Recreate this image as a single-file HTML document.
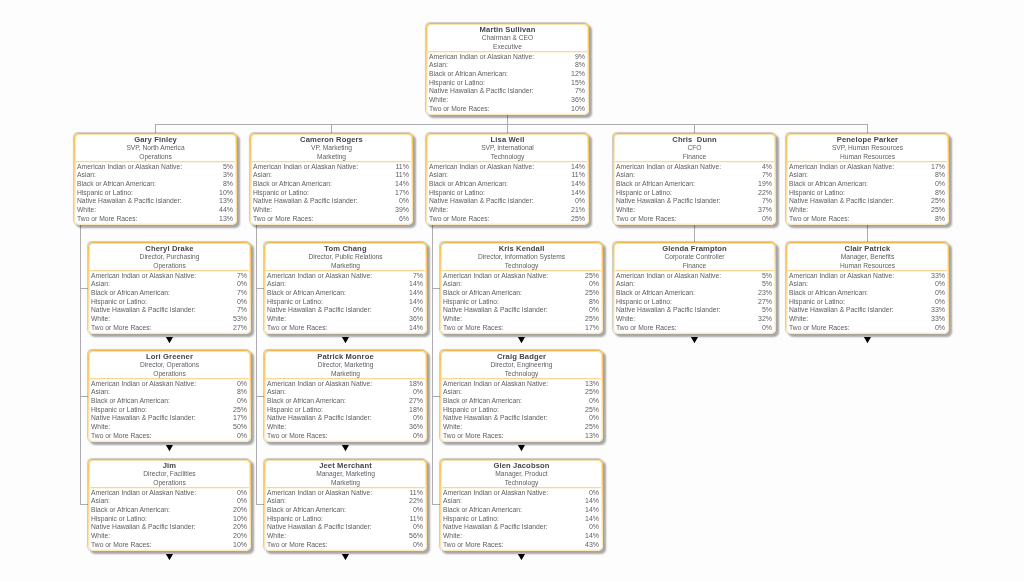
<!DOCTYPE html>
<html><head><meta charset="utf-8"><style>
html,body{margin:0;padding:0;}
body{width:1024px;height:581px;overflow:hidden;background:#fdfdfd;position:relative;font-family:"Liberation Sans",sans-serif;}
.ln{position:absolute;background:#acacb2;}
.bx{position:absolute;width:163px;height:92px;border-radius:5px;background:linear-gradient(to bottom,#e9b452 0px,#f6bb42 1px,#f7c14f 2.5px,#f9cb68 18%,#fcd88e 50%,#fde9bf 100%);box-shadow:-0.6px -0.6px 0.8px rgba(90,80,60,.28),2.5px 2.5px 2px rgba(0,0,0,.34);}
.in{position:absolute;left:1px;top:1px;right:1px;bottom:1px;border:1px solid rgba(255,255,255,.55);background:#fff;background-clip:padding-box;border-radius:4px;color:#5e5e62;font-size:6.65px;will-change:transform;line-height:8.65px;}
.hd{height:25.4px;padding-top:.6px;text-align:center;white-space:nowrap;}
.nm{font-weight:bold;font-size:7.6px;letter-spacing:.12px;color:#45454c;}
.sep{height:1px;background:#fcd695;box-shadow:0 1px 0 rgba(253,235,195,.6);}
.rows{padding:0.7px 1px 0 1px;font-size:6.75px;}
.r{position:relative;height:8.7px;white-space:nowrap;}
.r span{position:absolute;left:0px;}
.r b{position:absolute;right:1px;font-weight:normal;font-size:7px;}
.ar{position:absolute;}
</style></head><body>
<div class="ln" style="left:507px;top:115px;width:1px;height:10px"></div><div class="ln" style="left:155px;top:124px;width:713px;height:1px"></div><div class="ln" style="left:155px;top:124px;width:1px;height:9px"></div><div class="ln" style="left:331px;top:124px;width:1px;height:9px"></div><div class="ln" style="left:507px;top:124px;width:1px;height:9px"></div><div class="ln" style="left:694px;top:124px;width:1px;height:9px"></div><div class="ln" style="left:867px;top:124px;width:1px;height:9px"></div><div class="ln" style="left:80px;top:225px;width:1px;height:280px"></div><div class="ln" style="left:80px;top:288px;width:8px;height:1px"></div><div class="ln" style="left:80px;top:396px;width:8px;height:1px"></div><div class="ln" style="left:80px;top:504px;width:8px;height:1px"></div><div class="ln" style="left:256px;top:225px;width:1px;height:280px"></div><div class="ln" style="left:256px;top:288px;width:8px;height:1px"></div><div class="ln" style="left:256px;top:396px;width:8px;height:1px"></div><div class="ln" style="left:256px;top:504px;width:8px;height:1px"></div><div class="ln" style="left:432px;top:225px;width:1px;height:280px"></div><div class="ln" style="left:432px;top:288px;width:8px;height:1px"></div><div class="ln" style="left:432px;top:396px;width:8px;height:1px"></div><div class="ln" style="left:432px;top:504px;width:8px;height:1px"></div><div class="ln" style="left:694px;top:225px;width:1px;height:17px"></div><div class="ln" style="left:867px;top:225px;width:1px;height:17px"></div>
<div class="bx" style="left:426px;top:23px"><div class="in"><div class="hd"><div class="nm">Martin Sullivan</div><div>Chairman &amp; CEO</div><div>Executive</div></div><div class="sep"></div><div class="rows"><div class="r"><span>American Indian or Alaskan Native:</span><b>9%</b></div><div class="r"><span>Asian:</span><b>8%</b></div><div class="r"><span>Black or African American:</span><b>12%</b></div><div class="r"><span>Hispanic or Latino:</span><b>15%</b></div><div class="r"><span>Native Hawaiian &amp; Pacific Islander:</span><b>7%</b></div><div class="r"><span>White:</span><b>36%</b></div><div class="r"><span>Two or More Races:</span><b>10%</b></div></div></div></div><div class="bx" style="left:74px;top:133px"><div class="in"><div class="hd"><div class="nm">Gary Finley</div><div>SVP, North America</div><div>Operations</div></div><div class="sep"></div><div class="rows"><div class="r"><span>American Indian or Alaskan Native:</span><b>5%</b></div><div class="r"><span>Asian:</span><b>3%</b></div><div class="r"><span>Black or African American:</span><b>8%</b></div><div class="r"><span>Hispanic or Latino:</span><b>10%</b></div><div class="r"><span>Native Hawaiian &amp; Pacific Islander:</span><b>13%</b></div><div class="r"><span>White:</span><b>44%</b></div><div class="r"><span>Two or More Races:</span><b>13%</b></div></div></div></div><div class="bx" style="left:250px;top:133px"><div class="in"><div class="hd"><div class="nm">Cameron Rogers</div><div>VP, Marketing</div><div>Marketing</div></div><div class="sep"></div><div class="rows"><div class="r"><span>American Indian or Alaskan Native:</span><b>11%</b></div><div class="r"><span>Asian:</span><b>11%</b></div><div class="r"><span>Black or African American:</span><b>14%</b></div><div class="r"><span>Hispanic or Latino:</span><b>17%</b></div><div class="r"><span>Native Hawaiian &amp; Pacific Islander:</span><b>0%</b></div><div class="r"><span>White:</span><b>39%</b></div><div class="r"><span>Two or More Races:</span><b>6%</b></div></div></div></div><div class="bx" style="left:426px;top:133px"><div class="in"><div class="hd"><div class="nm">Lisa Weil</div><div>SVP, International</div><div>Technology</div></div><div class="sep"></div><div class="rows"><div class="r"><span>American Indian or Alaskan Native:</span><b>14%</b></div><div class="r"><span>Asian:</span><b>11%</b></div><div class="r"><span>Black or African American:</span><b>14%</b></div><div class="r"><span>Hispanic or Latino:</span><b>14%</b></div><div class="r"><span>Native Hawaiian &amp; Pacific Islander:</span><b>0%</b></div><div class="r"><span>White:</span><b>21%</b></div><div class="r"><span>Two or More Races:</span><b>25%</b></div></div></div></div><div class="bx" style="left:613px;top:133px"><div class="in"><div class="hd"><div class="nm">Chris&nbsp; Dunn</div><div>CFO</div><div>Finance</div></div><div class="sep"></div><div class="rows"><div class="r"><span>American Indian or Alaskan Native:</span><b>4%</b></div><div class="r"><span>Asian:</span><b>7%</b></div><div class="r"><span>Black or African American:</span><b>19%</b></div><div class="r"><span>Hispanic or Latino:</span><b>22%</b></div><div class="r"><span>Native Hawaiian &amp; Pacific Islander:</span><b>7%</b></div><div class="r"><span>White:</span><b>37%</b></div><div class="r"><span>Two or More Races:</span><b>0%</b></div></div></div></div><div class="bx" style="left:786px;top:133px"><div class="in"><div class="hd"><div class="nm">Penelope Parker</div><div>SVP, Human Resources</div><div>Human Resources</div></div><div class="sep"></div><div class="rows"><div class="r"><span>American Indian or Alaskan Native:</span><b>17%</b></div><div class="r"><span>Asian:</span><b>8%</b></div><div class="r"><span>Black or African American:</span><b>0%</b></div><div class="r"><span>Hispanic or Latino:</span><b>8%</b></div><div class="r"><span>Native Hawaiian &amp; Pacific Islander:</span><b>25%</b></div><div class="r"><span>White:</span><b>25%</b></div><div class="r"><span>Two or More Races:</span><b>8%</b></div></div></div></div><div class="bx" style="left:88px;top:242px"><div class="in"><div class="hd"><div class="nm">Cheryl Drake</div><div>Director, Purchasing</div><div>Operations</div></div><div class="sep"></div><div class="rows"><div class="r"><span>American Indian or Alaskan Native:</span><b>7%</b></div><div class="r"><span>Asian:</span><b>0%</b></div><div class="r"><span>Black or African American:</span><b>7%</b></div><div class="r"><span>Hispanic or Latino:</span><b>0%</b></div><div class="r"><span>Native Hawaiian &amp; Pacific Islander:</span><b>7%</b></div><div class="r"><span>White:</span><b>53%</b></div><div class="r"><span>Two or More Races:</span><b>27%</b></div></div></div></div><svg class="ar" style="left:164px;top:336px" width="10" height="8"><polygon points="1.9,1 9,1 5.45,7.3" fill="#000"/></svg><div class="bx" style="left:88px;top:350px"><div class="in"><div class="hd"><div class="nm">Lori Greener</div><div>Director, Operations</div><div>Operations</div></div><div class="sep"></div><div class="rows"><div class="r"><span>American Indian or Alaskan Native:</span><b>0%</b></div><div class="r"><span>Asian:</span><b>8%</b></div><div class="r"><span>Black or African American:</span><b>0%</b></div><div class="r"><span>Hispanic or Latino:</span><b>25%</b></div><div class="r"><span>Native Hawaiian &amp; Pacific Islander:</span><b>17%</b></div><div class="r"><span>White:</span><b>50%</b></div><div class="r"><span>Two or More Races:</span><b>0%</b></div></div></div></div><svg class="ar" style="left:164px;top:444px" width="10" height="8"><polygon points="1.9,1 9,1 5.45,7.3" fill="#000"/></svg><div class="bx" style="left:88px;top:459px"><div class="in"><div class="hd"><div class="nm">Jim</div><div>Director, Facilities</div><div>Operations</div></div><div class="sep"></div><div class="rows"><div class="r"><span>American Indian or Alaskan Native:</span><b>0%</b></div><div class="r"><span>Asian:</span><b>0%</b></div><div class="r"><span>Black or African American:</span><b>20%</b></div><div class="r"><span>Hispanic or Latino:</span><b>10%</b></div><div class="r"><span>Native Hawaiian &amp; Pacific Islander:</span><b>20%</b></div><div class="r"><span>White:</span><b>20%</b></div><div class="r"><span>Two or More Races:</span><b>10%</b></div></div></div></div><svg class="ar" style="left:164px;top:553px" width="10" height="8"><polygon points="1.9,1 9,1 5.45,7.3" fill="#000"/></svg><div class="bx" style="left:264px;top:242px"><div class="in"><div class="hd"><div class="nm">Tom Chang</div><div>Director, Public Relations</div><div>Marketing</div></div><div class="sep"></div><div class="rows"><div class="r"><span>American Indian or Alaskan Native:</span><b>7%</b></div><div class="r"><span>Asian:</span><b>14%</b></div><div class="r"><span>Black or African American:</span><b>14%</b></div><div class="r"><span>Hispanic or Latino:</span><b>14%</b></div><div class="r"><span>Native Hawaiian &amp; Pacific Islander:</span><b>0%</b></div><div class="r"><span>White:</span><b>36%</b></div><div class="r"><span>Two or More Races:</span><b>14%</b></div></div></div></div><svg class="ar" style="left:340px;top:336px" width="10" height="8"><polygon points="1.9,1 9,1 5.45,7.3" fill="#000"/></svg><div class="bx" style="left:264px;top:350px"><div class="in"><div class="hd"><div class="nm">Patrick Monroe</div><div>Director, Marketing</div><div>Marketing</div></div><div class="sep"></div><div class="rows"><div class="r"><span>American Indian or Alaskan Native:</span><b>18%</b></div><div class="r"><span>Asian:</span><b>0%</b></div><div class="r"><span>Black or African American:</span><b>27%</b></div><div class="r"><span>Hispanic or Latino:</span><b>18%</b></div><div class="r"><span>Native Hawaiian &amp; Pacific Islander:</span><b>0%</b></div><div class="r"><span>White:</span><b>36%</b></div><div class="r"><span>Two or More Races:</span><b>0%</b></div></div></div></div><svg class="ar" style="left:340px;top:444px" width="10" height="8"><polygon points="1.9,1 9,1 5.45,7.3" fill="#000"/></svg><div class="bx" style="left:264px;top:459px"><div class="in"><div class="hd"><div class="nm">Jeet Merchant</div><div>Manager, Marketing</div><div>Marketing</div></div><div class="sep"></div><div class="rows"><div class="r"><span>American Indian or Alaskan Native:</span><b>11%</b></div><div class="r"><span>Asian:</span><b>22%</b></div><div class="r"><span>Black or African American:</span><b>0%</b></div><div class="r"><span>Hispanic or Latino:</span><b>11%</b></div><div class="r"><span>Native Hawaiian &amp; Pacific Islander:</span><b>0%</b></div><div class="r"><span>White:</span><b>56%</b></div><div class="r"><span>Two or More Races:</span><b>0%</b></div></div></div></div><svg class="ar" style="left:340px;top:553px" width="10" height="8"><polygon points="1.9,1 9,1 5.45,7.3" fill="#000"/></svg><div class="bx" style="left:440px;top:242px"><div class="in"><div class="hd"><div class="nm">Kris Kendall</div><div>Director, Information Systems</div><div>Technology</div></div><div class="sep"></div><div class="rows"><div class="r"><span>American Indian or Alaskan Native:</span><b>25%</b></div><div class="r"><span>Asian:</span><b>0%</b></div><div class="r"><span>Black or African American:</span><b>25%</b></div><div class="r"><span>Hispanic or Latino:</span><b>8%</b></div><div class="r"><span>Native Hawaiian &amp; Pacific Islander:</span><b>0%</b></div><div class="r"><span>White:</span><b>25%</b></div><div class="r"><span>Two or More Races:</span><b>17%</b></div></div></div></div><svg class="ar" style="left:516px;top:336px" width="10" height="8"><polygon points="1.9,1 9,1 5.45,7.3" fill="#000"/></svg><div class="bx" style="left:440px;top:350px"><div class="in"><div class="hd"><div class="nm">Craig Badger</div><div>Director, Engineering</div><div>Technology</div></div><div class="sep"></div><div class="rows"><div class="r"><span>American Indian or Alaskan Native:</span><b>13%</b></div><div class="r"><span>Asian:</span><b>25%</b></div><div class="r"><span>Black or African American:</span><b>0%</b></div><div class="r"><span>Hispanic or Latino:</span><b>25%</b></div><div class="r"><span>Native Hawaiian &amp; Pacific Islander:</span><b>0%</b></div><div class="r"><span>White:</span><b>25%</b></div><div class="r"><span>Two or More Races:</span><b>13%</b></div></div></div></div><svg class="ar" style="left:516px;top:444px" width="10" height="8"><polygon points="1.9,1 9,1 5.45,7.3" fill="#000"/></svg><div class="bx" style="left:440px;top:459px"><div class="in"><div class="hd"><div class="nm">Glen Jacobson</div><div>Manager, Product</div><div>Technology</div></div><div class="sep"></div><div class="rows"><div class="r"><span>American Indian or Alaskan Native:</span><b>0%</b></div><div class="r"><span>Asian:</span><b>14%</b></div><div class="r"><span>Black or African American:</span><b>14%</b></div><div class="r"><span>Hispanic or Latino:</span><b>14%</b></div><div class="r"><span>Native Hawaiian &amp; Pacific Islander:</span><b>0%</b></div><div class="r"><span>White:</span><b>14%</b></div><div class="r"><span>Two or More Races:</span><b>43%</b></div></div></div></div><svg class="ar" style="left:516px;top:553px" width="10" height="8"><polygon points="1.9,1 9,1 5.45,7.3" fill="#000"/></svg><div class="bx" style="left:613px;top:242px"><div class="in"><div class="hd"><div class="nm">Glenda Frampton</div><div>Corporate Controller</div><div>Finance</div></div><div class="sep"></div><div class="rows"><div class="r"><span>American Indian or Alaskan Native:</span><b>5%</b></div><div class="r"><span>Asian:</span><b>5%</b></div><div class="r"><span>Black or African American:</span><b>23%</b></div><div class="r"><span>Hispanic or Latino:</span><b>27%</b></div><div class="r"><span>Native Hawaiian &amp; Pacific Islander:</span><b>5%</b></div><div class="r"><span>White:</span><b>32%</b></div><div class="r"><span>Two or More Races:</span><b>0%</b></div></div></div></div><svg class="ar" style="left:689px;top:336px" width="10" height="8"><polygon points="1.9,1 9,1 5.45,7.3" fill="#000"/></svg><div class="bx" style="left:786px;top:242px"><div class="in"><div class="hd"><div class="nm">Clair Patrick</div><div>Manager, Benefits</div><div>Human Resources</div></div><div class="sep"></div><div class="rows"><div class="r"><span>American Indian or Alaskan Native:</span><b>33%</b></div><div class="r"><span>Asian:</span><b>0%</b></div><div class="r"><span>Black or African American:</span><b>0%</b></div><div class="r"><span>Hispanic or Latino:</span><b>0%</b></div><div class="r"><span>Native Hawaiian &amp; Pacific Islander:</span><b>33%</b></div><div class="r"><span>White:</span><b>33%</b></div><div class="r"><span>Two or More Races:</span><b>0%</b></div></div></div></div><svg class="ar" style="left:862px;top:336px" width="10" height="8"><polygon points="1.9,1 9,1 5.45,7.3" fill="#000"/></svg>
</body></html>
